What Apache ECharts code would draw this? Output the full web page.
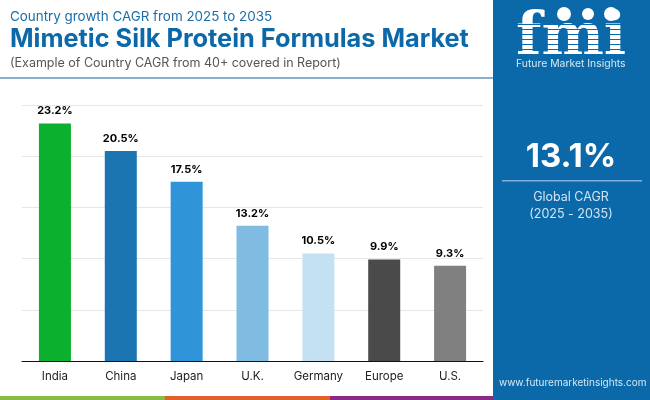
<!DOCTYPE html>
<html>
<head>
<meta charset="utf-8">
<style>html,body{margin:0;padding:0;background:#fff}#chart{width:650px;height:400px}</style>
<script src="https://cdn.jsdelivr.net/npm/echarts@6/dist/echarts.min.js"></script>
</head>
<body>
<div id="chart"></div>
<script>
var categories = ['India', 'China', 'Japan', 'U.K.', 'Germany', 'Europe', 'U.S.'];
var cagrValues = [23.2, 20.5, 17.5, 13.2, 10.5, 9.9, 9.3];
var barColors = ['#0bb02f', '#1a75b0', '#2f94d8', '#80bce2', '#c4e1f3', '#4a4a4a', '#808080'];

var font = 'Inter';
var panelBlue = '#0b69a9';

var myChart = echarts.init(document.getElementById('chart'));

function label(text, x, y, fill, fontStr, align, z) {
    return {
        type: 'text', z: z || 1,
        style: { text: text, x: x, y: y, fill: fill, font: fontStr, textAlign: align || 'left', textVerticalAlign: 'middle' }
    };
}

// stripes cut through the logo letters
var logoStripes = [];
for (var y = 24; y < 56; y += 5) {
    logoStripes.push({
        type: 'rect', z: 12,
        shape: { x: 512, y: y, width: 118, height: 1 },
        style: { fill: panelBlue }
    });
}

var option = {
    animation: false,
    backgroundColor: '#fff',
    grid: { left: 22, right: 167, top: 105, bottom: 39 },
    xAxis: {
        type: 'category',
        data: categories,
        axisTick: { show: false },
        axisLine: { lineStyle: { color: '#111', width: 1 } },
        axisLabel: { color: '#222', fontFamily: font, fontSize: 11.5, margin: 10 }
    },
    yAxis: {
        type: 'value',
        min: 0,
        max: 25,
        interval: 5,
        axisLabel: { show: false },
        axisLine: { show: false },
        axisTick: { show: false },
        splitLine: { lineStyle: { color: '#e6e6e6', width: 1 } }
    },
    series: [{
        type: 'bar',
        barWidth: 32,
        data: cagrValues.map(function (v, i) {
            return { value: v, itemStyle: { color: barColors[i] } };
        }),
        label: {
            show: true,
            position: 'top',
            distance: 7,
            color: '#000',
            fontFamily: font,
            fontWeight: 'bold',
            fontSize: 11,
            formatter: function (p) { return p.value.toFixed(1) + '%'; }
        }
    }],
    graphic: [
        // header
        label('Country growth CAGR from 2025 to 2035', 10, 17, '#1a6ea8', '13.4px ' + font),
        label('Mimetic Silk Protein Formulas Market', 10, 39, '#0b69a9', 'bold 25.3px ' + font),
        label('(Example of Country CAGR from 40+ covered in Report)', 10, 63, '#555', '12.5px ' + font),
        { type: 'rect', shape: { x: 0, y: 77, width: 493, height: 2 }, style: { fill: '#8aaecb' } },
        // side panel
        { type: 'rect', z: 10, shape: { x: 493, y: 0, width: 157, height: 400 }, style: { fill: panelBlue } },
        label('fmi', 516, 40, '#fff', 'bold 59px "DejaVu Serif"', 'left', 11),
        { type: 'circle', z: 13, shape: { cx: 564, cy: 14, r: 7 }, style: { fill: '#fff' } },
        { type: 'circle', z: 13, shape: { cx: 588, cy: 14, r: 6 }, style: { fill: '#fff' } },
        { type: 'circle', z: 13, shape: { cx: 611, cy: 14, r: 7 }, style: { fill: '#fff' } },
        label('Future Market Insights', 516, 64, '#d5e8f5', '10.4px ' + font, 'left', 11),
        label('13.1%', 571, 157, '#fff', 'bold 33px ' + font, 'center', 11),
        { type: 'rect', z: 11, shape: { x: 502, y: 180, width: 140, height: 1.5 }, style: { fill: '#7fb2da' } },
        label('Global CAGR', 571, 197, '#cfe5f5', '12.5px ' + font, 'center', 11),
        label('(2025 - 2035)', 571, 214, '#cfe5f5', '12.5px ' + font, 'center', 11),
        label('www.futuremarketinsights.com', 499, 383, '#d5e8f5', '10px ' + font, 'left', 11),
        // bottom strip
        { type: 'rect', shape: { x: 0, y: 396, width: 165, height: 4 }, style: { fill: '#8abb45' } },
        { type: 'rect', shape: { x: 165, y: 396, width: 165, height: 4 }, style: { fill: '#e2602a' } },
        { type: 'rect', shape: { x: 330, y: 396, width: 163, height: 4 }, style: { fill: '#8a2a86' } }
    ].concat(logoStripes)
};
myChart.setOption(option);
</script>
</body>
</html>
